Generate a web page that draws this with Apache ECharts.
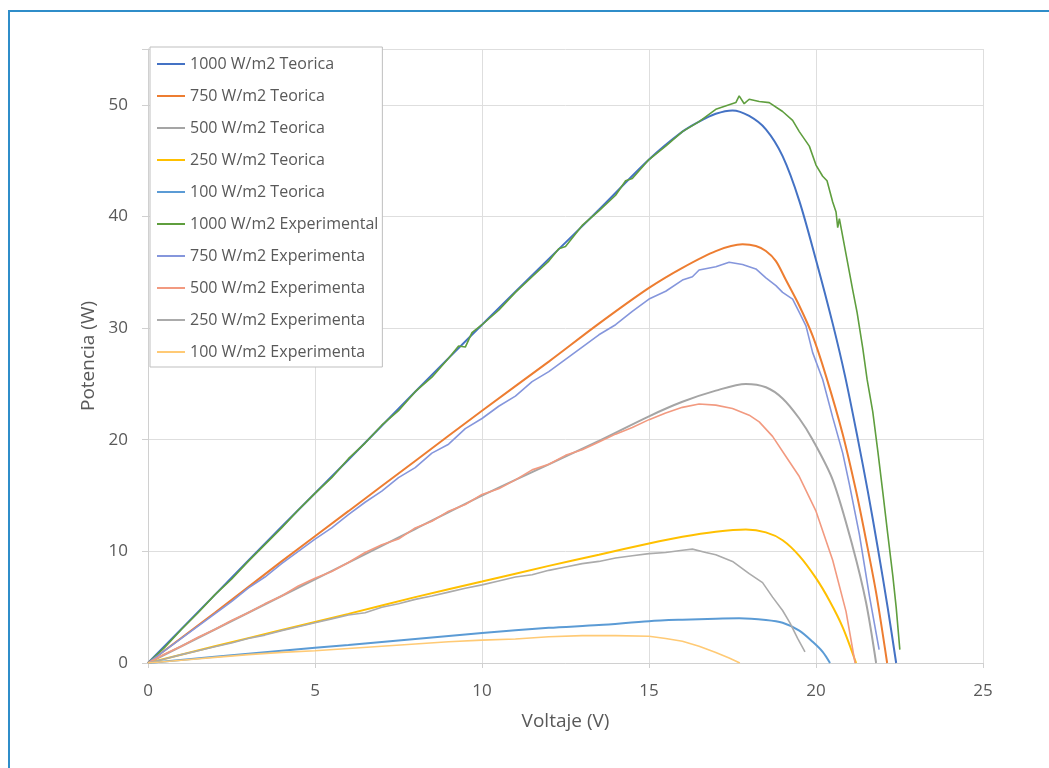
<!DOCTYPE html>
<html>
<head>
<meta charset="utf-8">
<script src="https://cdn.jsdelivr.net/npm/echarts@6/dist/echarts.min.js"></script>
<style>
  html, body { margin: 0; padding: 0; background: #fff; }
  #frame { position: absolute; left: 8px; top: 10px; width: 1100px; height: 800px;
           border-left: 2px solid #2f8dc9; border-top: 2px solid #2f8dc9; box-sizing: border-box; }
  #chart { position: absolute; left: 0; top: 0; width: 1049px; height: 768px; }
</style>
</head>
<body>
<div id="frame"></div>
<div id="chart"></div>
<script>
// curvas teoricas [V, P]
const teorica1000 = [[0,0],[2,6.1],[4,12.2],[6,18.2],[8,24.3],[10,30.3],[12,36.2],[13.5,40.6],[15,45.1],[16,47.6],[16.5,48.5],[17,49.2],[17.5,49.5],[18,49.0],[18.5,47.8],[19,45.4],[19.5,41.4],[20,36.1],[20.5,30.4],[20.87,25.7],[21.25,20.1],[21.55,15.4],[21.85,10.3],[22.15,4.9],[22.4,0]];
const teorica750 = [[0,0],[2,4.5],[4,9.1],[6,13.6],[8,18.1],[10,22.6],[12,27.0],[13.5,30.4],[15,33.6],[16,35.4],[17,36.9],[17.8,37.5],[18.2,37.35],[18.5,36.9],[18.8,36.0],[19.1,34.3],[19.5,32.0],[19.9,29.3],[20.3,25.7],[20.8,20.5],[21.2,15.4],[21.5,11.0],[21.8,6.3],[22.13,0]];
const teorica500 = [[0,0],[2,3.0],[4,6.0],[6,9.0],[8,12.0],[10,15.0],[12,17.8],[13.5,19.9],[15,22.1],[16,23.4],[17,24.4],[17.9,25.0],[18.5,24.7],[19,23.7],[19.5,21.9],[19.9,20.0],[20.5,16.4],[21.1,10.4],[21.5,5.4],[21.8,0]];
const teorica250 = [[0,0],[2,1.5],[4,2.95],[6,4.4],[8,5.9],[10,7.3],[12,8.7],[13.5,9.7],[15,10.7],[16,11.3],[17,11.75],[17.9,11.95],[18.5,11.7],[19,11.0],[19.5,9.6],[20,7.6],[20.4,5.6],[20.8,3.2],[21.2,0]];
const teorica100 = [[0,0],[2,0.55],[4,1.1],[6,1.62],[8,2.16],[10,2.68],[12,3.15],[13.5,3.4],[15,3.75],[16,3.88],[17,3.97],[17.7,4.0],[18.5,3.85],[19,3.6],[19.5,2.9],[19.9,1.9],[20.2,1.0],[20.42,0]];

// curvas experimentales [V, P]
const exp1000 = [[0,0],[0.5,1.4],[1,3.0],[1.5,4.5],[2,6.1],[2.5,7.5],[3,9.1],[3.5,10.6],[4,12.1],[4.5,13.7],[5,15.2],[5.5,16.6],[6,18.3],[6.5,19.7],[7,21.3],[7.5,22.6],[8,24.3],[8.5,25.6],[9,27.3],[9.3,28.4],[9.5,28.3],[9.7,29.6],[10,30.3],[10.5,31.6],[11,33.2],[11.5,34.6],[12,36.0],[12.3,37.1],[12.5,37.3],[13,39.2],[13.5,40.5],[14,41.9],[14.3,43.2],[14.5,43.4],[15,45.1],[15.5,46.3],[16,47.6],[16.5,48.5],[17,49.6],[17.4,50.0],[17.6,50.2],[17.7,50.8],[17.85,50.1],[18,50.5],[18.3,50.3],[18.6,50.2],[19,49.4],[19.3,48.6],[19.5,47.6],[19.8,46.3],[20,44.6],[20.2,43.6],[20.33,43.2],[20.5,41.3],[20.6,40.4],[20.65,39.0],[20.7,39.8],[20.9,36.6],[21.1,33.4],[21.23,31.4],[21.4,28.2],[21.53,25.4],[21.7,22.5],[21.85,19.0],[22.0,15.3],[22.15,11.5],[22.3,7.8],[22.4,5.0],[22.51,1.2]];
const exp750 = [[0,0],[0.5,1.1],[1,2.2],[1.5,3.3],[2,4.4],[2.5,5.5],[3,6.7],[3.5,7.7],[4,8.9],[4.5,10.0],[5,11.1],[5.5,12.1],[6,13.3],[6.5,14.4],[7,15.4],[7.5,16.6],[8,17.5],[8.5,18.8],[9,19.6],[9.5,21.0],[10,21.9],[10.5,23.0],[11,23.9],[11.5,25.2],[12,26.1],[12.5,27.2],[13,28.3],[13.5,29.4],[14,30.3],[14.5,31.5],[15,32.6],[15.5,33.3],[16,34.3],[16.3,34.6],[16.5,35.2],[17,35.5],[17.4,35.9],[17.8,35.7],[18.2,35.3],[18.5,34.5],[18.8,33.8],[19,33.2],[19.3,32.6],[19.5,31.4],[19.7,30.2],[19.9,27.8],[20.2,25.4],[20.5,22.0],[20.8,18.8],[21.0,16.0],[21.3,11.5],[21.6,6.0],[21.89,1.2]];
const exp500 = [[0,0],[0.5,0.8],[1,1.5],[1.5,2.3],[2,3.0],[2.5,3.8],[3,4.5],[3.5,5.3],[4,6.0],[4.5,6.9],[5,7.6],[5.5,8.2],[6,9.0],[6.5,9.9],[7,10.6],[7.5,11.1],[8,12.1],[8.5,12.7],[9,13.6],[9.5,14.2],[10,15.1],[10.5,15.6],[11,16.4],[11.5,17.3],[12,17.8],[12.5,18.6],[13,19.1],[13.5,19.8],[14,20.5],[14.5,21.1],[15,21.8],[15.5,22.4],[16,22.9],[16.5,23.2],[17,23.1],[17.5,22.8],[18,22.2],[18.3,21.6],[18.7,20.3],[19.1,18.5],[19.5,16.7],[20,13.6],[20.5,9.2],[20.9,4.6],[21.17,0]];
const exp250 = [[0,0],[0.5,0.35],[1,0.75],[1.5,1.1],[2,1.45],[2.5,1.8],[3,2.2],[3.5,2.5],[4,2.9],[4.5,3.25],[5,3.6],[5.5,3.95],[6,4.3],[6.5,4.5],[7,5.0],[7.5,5.3],[8,5.7],[8.5,6.0],[9,6.35],[9.5,6.7],[10,7.0],[10.5,7.35],[11,7.7],[11.5,7.9],[12,8.3],[12.5,8.6],[13,8.9],[13.5,9.1],[14,9.4],[14.5,9.6],[15,9.8],[15.5,9.9],[16,10.1],[16.3,10.2],[16.7,9.9],[17,9.7],[17.5,9.1],[18,8.0],[18.4,7.2],[18.7,5.9],[19.0,4.7],[19.22,3.6],[19.45,2.2],[19.67,1.0]];
const exp100 = [[0,0],[1,0.25],[2,0.5],[3,0.75],[4,0.95],[5,1.1],[6,1.3],[7,1.5],[8,1.7],[9,1.9],[10,2.05],[11,2.15],[12,2.35],[13,2.45],[14,2.45],[15,2.4],[15.5,2.2],[16,1.95],[16.5,1.5],[17,0.95],[17.4,0.45],[17.72,0]];

const nombres = ["1000 W/m2 Teorica","750 W/m2 Teorica","500 W/m2 Teorica","250 W/m2 Teorica","100 W/m2 Teorica",
  "1000 W/m2 Experimental","750 W/m2 Experimenta","500 W/m2 Experimenta","250 W/m2 Experimenta","100 W/m2 Experimenta"];
const colores = ["#4472c4","#ed7d31","#a5a5a5","#ffc000","#5b9bd5","#5f9e3e","#8596dc","#f29a80","#ababab","#ffca75"];
const datos = [teorica1000, teorica750, teorica500, teorica250, teorica100, exp1000, exp750, exp500, exp250, exp100];

const gris = "#595959";
const fuente = "'Open Sans', sans-serif";

let chart = echarts.init(document.getElementById("chart"));

const option = {
  animation: false,
  color: colores,
  grid: { left: 148, right: 66, top: 49, bottom: 105 },
  legend: {
    orient: "vertical",
    left: 150,
    top: 47,
    padding: [9, 4, 7, 7],
    itemGap: 16,
    itemWidth: 28,
    itemHeight: 2,
    icon: "rect",
    backgroundColor: "#fff",
    borderColor: "#bfbfbf",
    borderWidth: 1,
    data: nombres,
    textStyle: { color: gris, fontSize: 16, lineHeight: 16, fontFamily: fuente },
  },
  xAxis: {
    type: "value",
    min: 0,
    max: 25,
    interval: 5,
    name: "Voltaje (V)",
    nameLocation: "middle",
    nameGap: 49,
    nameTextStyle: { color: gris, fontSize: 19, fontFamily: fuente },
    axisLine: { show: true, lineStyle: { color: "#d0d0d0" } },
    axisTick: { show: true, length: 5, lineStyle: { color: "#d0d0d0" } },
    axisLabel: { color: gris, fontSize: 17, margin: 20, fontFamily: fuente },
    splitLine: { show: true, lineStyle: { color: "#dedede" } },
  },
  yAxis: {
    type: "value",
    min: 0,
    max: 55,
    interval: 10,
    name: "Potencia (W)",
    nameLocation: "middle",
    nameGap: 50,
    nameTextStyle: { color: gris, fontSize: 19, fontFamily: fuente },
    axisLine: { show: true, lineStyle: { color: "#d0d0d0" } },
    axisTick: { show: true, length: 6, lineStyle: { color: "#d0d0d0" } },
    axisLabel: {
      color: gris, fontSize: 17, margin: 20, fontFamily: fuente,
      formatter: (v) => (v % 10 === 0 ? v : ""),
    },
    splitLine: { show: true, lineStyle: { color: "#dedede" } },
  },
  series: datos.map((d, i) => ({
    name: nombres[i],
    type: "line",
    data: d,
    showSymbol: false,
    symbol: "none",
    smooth: i < 5 ? 0.3 : false,
    lineStyle: { width: i < 5 ? 2 : 1.6, color: colores[i] },
  })),
};
chart.setOption(option);
</script>
</body>
</html>
